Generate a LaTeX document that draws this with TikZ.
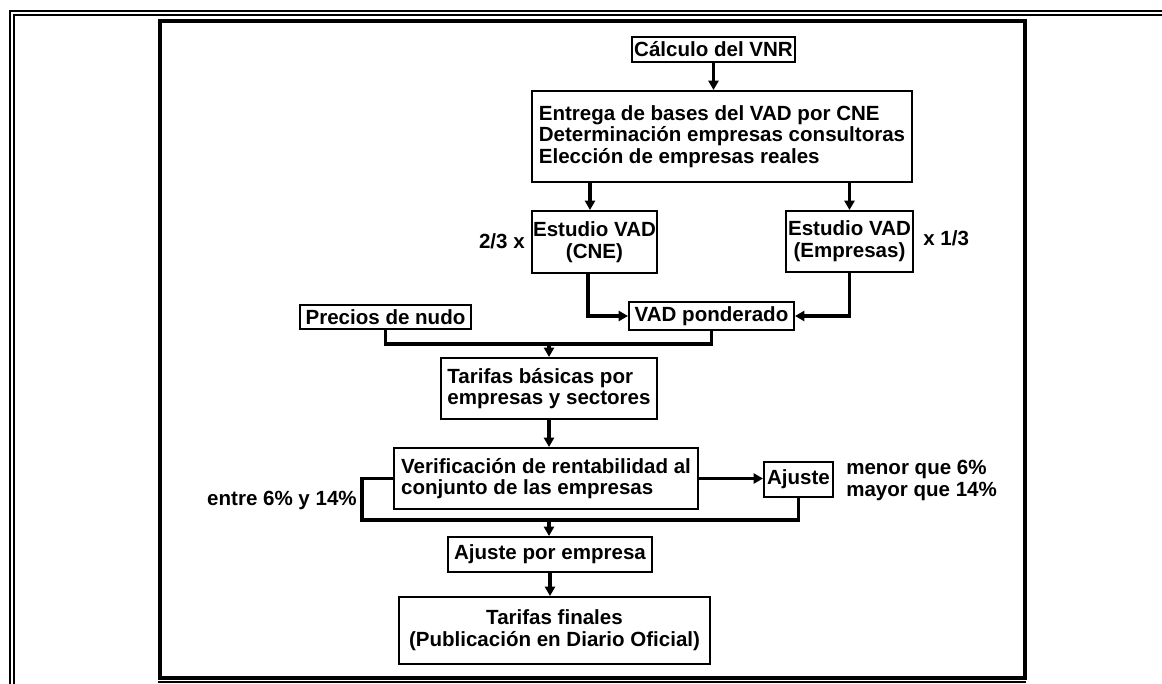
\documentclass[tikz,border=0pt]{standalone}
\usepackage{fontspec}
\setmainfont{Liberation Sans}
\usetikzlibrary{arrows.meta,calc}

\begin{document}
\begin{tikzpicture}[x=0.75pt,y=-0.75pt,
  font=\fontsize{15.4pt}{16.3pt}\selectfont\bfseries,
  box/.style={draw, line width=1.5pt, inner sep=0pt, align=center},
  lbl/.style={inner sep=0pt},
  conn/.style={line width=2.3pt},
  arr/.style={conn, -{Triangle[length=7pt,width=7.5pt]}},
]
\useasboundingbox (0,0) rectangle (1162,683);
\fill[white] (0,0) rectangle (1162,683);

% outer double frame (runs past the page on the right and bottom)
\begin{scope}
  \clip (0,0) rectangle (1162,683);
  \draw[line width=1.5pt] (10,11) rectangle (1250,760);
  \draw[line width=1.5pt] (14,15) rectangle (1246,756);
\end{scope}

% inner frame
\draw[line width=3pt] (160,20.5) rectangle (1024.5,678);
\draw[line width=1.5pt] (158,682) -- (1026,682);

% process boxes
\node[box, minimum width=122.25pt, minimum height=18.75pt] (calc) at (713.5,49.5) {Cálculo del VNR};
\node[box, minimum width=285pt, minimum height=68.25pt, align=left] (bases) at (722,136.5)
  {Entrega de bases del VAD por CNE\\Determinación empresas consultoras\\Elección de empresas reales};
\node[box, minimum width=93.75pt, minimum height=46.5pt] (cne) at (594.5,242) {Estudio VAD\\(CNE)};
\node[box, minimum width=95.25pt, minimum height=45.75pt] (emp) at (849.5,241.5) {Estudio VAD\\(Empresas)};
\node[box, minimum width=128.25pt, minimum height=18pt] (prec) at (385.5,317) {Precios de nudo};
\node[box, minimum width=123.75pt, minimum height=21pt] (vadp) at (711.5,316) {VAD ponderado};
\node[box, minimum width=162pt, minimum height=45.75pt, align=left] (tarb) at (549,388.5)
  {Tarifas básicas por\\empresas y sectores};
\node[box, minimum width=228pt, minimum height=45.75pt, align=left] (verif) at (546,478.5)
  {Verificación de rentabilidad al\\conjunto de las empresas};
\node[box, minimum width=51.75pt, minimum height=26.25pt] (ajuste) at (798.5,479.5) {Ajuste};
\node[box, minimum width=153pt, minimum height=26.25pt] (ajemp) at (550,554.5) {Ajuste por empresa};
\node[box, minimum width=233.25pt, minimum height=50.25pt] (final) at (554.5,630.5)
  {Tarifas finales\\(Publicación en Diario Oficial)};

% side labels
\node[lbl, anchor=east] (w1) at (525,241) {2/3 x};
\node[lbl, anchor=west] (w2) at (923,238) {x 1/3};
\node[lbl, anchor=east] (r1) at (357,500) {entre 6\% y 14\%};
\node[lbl, anchor=west, align=left] (r2) at (846,480.5) {menor que 6\%\\mayor que 14\%};

% helper points for the connectors
\coordinate (s1) at (590,0);
\coordinate (s2) at (588,0);
\coordinate (j1) at (549,344);
\coordinate (lp) at (362,520);
\coordinate (j2) at (549,520);

% connectors
\draw[arr] (calc.south) -- (calc.south |- bases.north);
\draw[arr] (s1 |- bases.south) -- (s1 |- cne.north);
\draw[arr] (emp.north |- bases.south) -- (emp.north);
\draw[arr] (s2 |- cne.south) |- (vadp.west);
\draw[arr] (emp.south) |- (vadp.east);
\draw[conn] (prec.south) |- (j1) -| (vadp.south);
\draw[arr] (j1) -- (tarb.north);
\draw[arr] (tarb.south) -- (tarb.south |- verif.north);
\draw[arr] (verif.east) -- (verif.east -| ajuste.west);
\draw[conn] (verif.west) -| (lp) -| (ajuste.south);
\draw[arr] (j2) -- (j2 |- ajemp.north);
\draw[arr] (ajemp.south) -- (ajemp.south |- final.north);
\end{tikzpicture}
\end{document}
